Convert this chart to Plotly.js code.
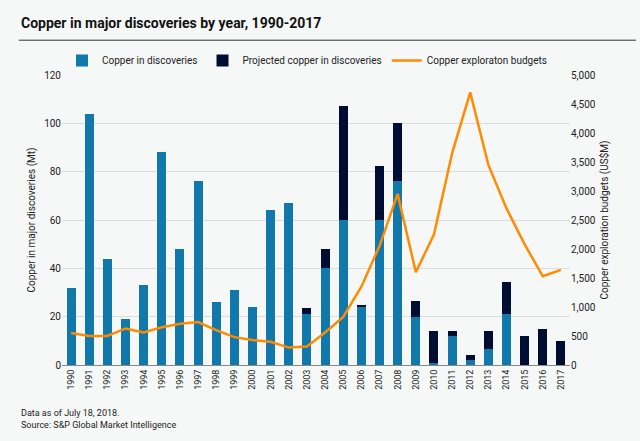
<!DOCTYPE html>
<html>
<head>
<meta charset="utf-8">
<script src="https://cdn.plot.ly/plotly-3.0.1.min.js"></script>
<style>
  html, body { margin: 0; padding: 0; background: #f6f8f8; }
  #chart { width: 640px; height: 441px; }
</style>
</head>
<body>
<div id="chart"></div>
<script>
const years = ["1990","1991","1992","1993","1994","1995","1996","1997","1998","1999","2000","2001","2002","2003","2004","2005","2006","2007","2008","2009","2010","2011","2012","2013","2014","2015","2016","2017"];
const discovered = [32,104,44,19,33,88,48,76,26,31,24,64,67,21,40,60,24,60,76,20,1,12,2,6.5,21,0,0,0];
const projected = [0,0,0,0,0,0,0,0,0,0,0,0,0,2.5,8,47,1,22.5,24,6.5,13,2,2,7.5,13.5,12,15,10];
const budgets = [550,500,500,630,560,650,710,740,600,480,430,400,300,320,560,830,1350,2050,2950,1600,2250,3650,4700,3450,2700,2080,1530,1640];

const FONT = "Roboto, Liberation Sans, sans-serif";
const BLUE = "#1178ab";
const NAVY = "#000d33";
const ORANGE = "#ff8c00";

const traces = [
    { x: years, y: discovered, type: "bar", name: "Copper in discoveries", marker: { color: BLUE } },
    { x: years, y: projected, type: "bar", name: "Projected copper in discoveries", marker: { color: NAVY } },
    { x: years, y: budgets, type: "scatter", mode: "lines", name: "Copper exploraton budgets",
      yaxis: "y2", line: { color: ORANGE, width: 2.5 } }
];

const layout = {
    width: 640, height: 441,
    paper_bgcolor: "#f6f8f8",
    plot_bgcolor: "#f6f8f8",
    barmode: "stack",
    bargap: 0.5,
    margin: { l: 62, r: 70, t: 75, b: 76 },
    font: { family: FONT, size: 10, color: "#222" },
    showlegend: true,
    legend: { orientation: "h", x: 0.0, y: 1.1, xanchor: "left", font: { size: 10 }, traceorder: "normal" },
    xaxis: { type: "category", tickangle: -90, tickfont: { size: 9 }, showline: true, linecolor: "#888", ticks: "" },
    yaxis: {
        range: [0, 120], dtick: 20, gridcolor: "#dcdcdc", zeroline: false,
        title: { text: "Copper in major discoveries (Mt)", font: { size: 10 }, standoff: 6 }
    },
    yaxis2: {
        overlaying: "y", side: "right", range: [0, 5000], dtick: 500, tickformat: ",",
        showgrid: false, zeroline: false,
        title: { text: "Copper exploration budgets (US$M)", font: { size: 10 }, standoff: 6 }
    },
    shapes: [
        { type: "line", xref: "paper", yref: "paper", x0: -0.085, x1: 1.13, y0: 1.12, y1: 1.12,
          line: { color: "#333", width: 1 } }
    ],
    annotations: [
        { xref: "paper", yref: "paper", x: -0.085, y: 1.18, xanchor: "left", yanchor: "middle", showarrow: false,
          text: "<b>Copper in major discoveries by year, 1990-2017</b>", font: { size: 14, color: "#111" } },
        { xref: "paper", yref: "paper", x: -0.085, y: -0.14, xanchor: "left", yanchor: "top", showarrow: false, align: "left",
          text: "Data as of July 18, 2018.<br>Source: S&P Global Market Intelligence", font: { size: 9, color: "#222" } }
    ]
};

Plotly.newPlot("chart", traces, layout, { displayModeBar: false });
</script>
</body>
</html>
